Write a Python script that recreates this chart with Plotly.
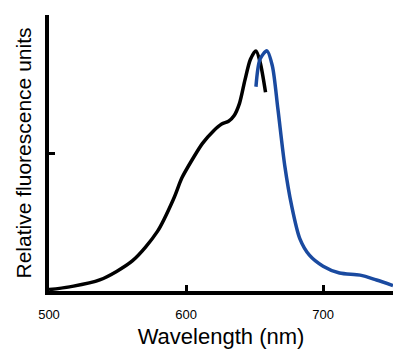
import plotly.graph_objects as go

# Excitation spectrum (black)
ex_wl = [500, 515, 537, 561, 579, 591, 597, 605, 612, 620, 626, 631, 635, 639, 643, 647, 651, 654, 658]
ex_val = [0.01, 0.03, 0.08, 0.22, 0.43, 0.67, 0.82, 0.96, 1.07, 1.16, 1.21, 1.23, 1.27, 1.36, 1.53, 1.68, 1.74, 1.66, 1.44]

# Emission spectrum (blue)
em_wl = [651, 654, 659, 663, 667, 672, 677, 683, 690, 700, 712, 727, 739, 751]
em_val = [1.48, 1.68, 1.74, 1.63, 1.32, 0.91, 0.62, 0.38, 0.26, 0.18, 0.13, 0.115, 0.08, 0.04]

x_ticks = [500, 600, 700]
y_ticks = [0, 1, 2]

fig = go.Figure()
fig.add_trace(go.Scatter(x=ex_wl, y=ex_val, mode="lines",
                         line=dict(color="black", width=3.5, shape="spline", smoothing=0.8),
                         showlegend=False))
fig.add_trace(go.Scatter(x=em_wl, y=em_val, mode="lines",
                         line=dict(color="#1a4aa0", width=3.5, shape="spline", smoothing=0.8),
                         showlegend=False))

fig.update_layout(
    width=400, height=352,
    margin=dict(l=49, r=7, t=15, b=61),
    paper_bgcolor="white", plot_bgcolor="white",
    font=dict(family="Liberation Sans, Arial, sans-serif", color="black"),
    xaxis=dict(range=[500, 751], tickvals=x_ticks, ticktext=[str(v) for v in x_ticks],
               showline=True, linewidth=4, linecolor="black", mirror=False,
               ticks="inside", ticklen=6, tickwidth=2.5, tickcolor="black",
               showgrid=False, zeroline=False,
               tickfont=dict(family="Liberation Sans Narrow, Arial Narrow, sans-serif",
                             size=13, color="black"),
               ticklabelstandoff=8,
               title=dict(text="Wavelength (nm)", font=dict(size=22, color="black"), standoff=9)),
    yaxis=dict(range=[0, 2], tickvals=y_ticks, showticklabels=False,
               showline=True, linewidth=4, linecolor="black",
               ticks="inside", ticklen=6, tickwidth=2.5, tickcolor="black",
               showgrid=False, zeroline=False,
               title=dict(text="Relative fluorescence units", font=dict(size=21, color="black"),
                          standoff=9)),
)

fig.write_html("out.html")
